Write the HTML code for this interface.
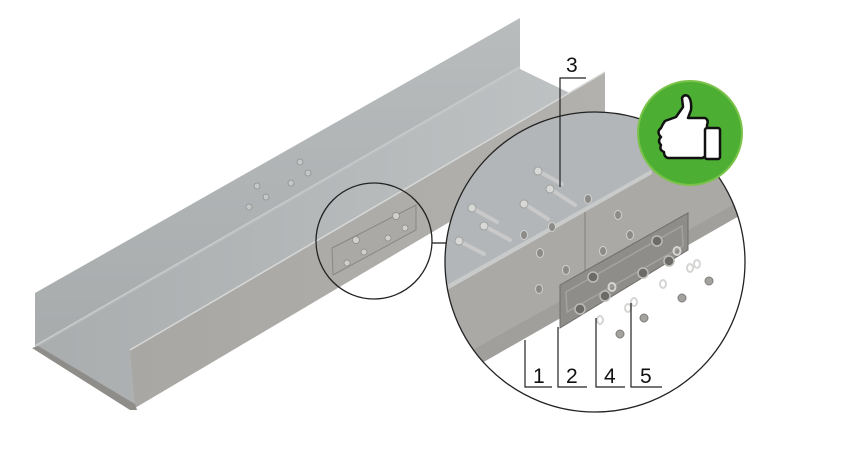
<!DOCTYPE html>
<html><head><meta charset="utf-8"><style>
html,body{margin:0;padding:0;background:#fff;}
svg{display:block;}
text{font-family:"Liberation Sans",sans-serif;}
</style></head><body>
<svg width="841" height="454" viewBox="0 0 841 454" xmlns="http://www.w3.org/2000/svg">
<defs>
<linearGradient id="bw" x1="0" y1="0" x2="0" y2="1"><stop offset="0" stop-color="#b9bcbd"/><stop offset="1" stop-color="#a7abac"/></linearGradient>
<linearGradient id="fl" x1="0" y1="0" x2="1" y2="0"><stop offset="0" stop-color="#a9adae"/><stop offset="1" stop-color="#bfc3c4"/></linearGradient>
<linearGradient id="fw" x1="0" y1="0" x2="1" y2="0"><stop offset="0" stop-color="#a9a7a3"/><stop offset="1" stop-color="#b3b1ad"/></linearGradient>
<clipPath id="cc"><circle cx="595" cy="262" r="150"/></clipPath>
</defs>
<polygon points="35,293 520,18 520,69 35,348" fill="url(#bw)"/>
<polygon points="35,348 520,69 605,110 130,408" fill="url(#fl)"/>
<polygon points="130,350 605,72 605,130 135,408" fill="url(#fw)"/>
<line x1="130" y1="350" x2="605" y2="72" stroke="#d6d8d8" stroke-width="1.5"/>
<line x1="35" y1="346" x2="520" y2="67" stroke="#c6c9ca" stroke-width="2"/>
<polygon points="32,348 38,346 135,404 137,410 130,410" fill="#8f8d8a"/>
<g fill="#c6c8c8" stroke="#8e9091" stroke-width="0.8">
<circle cx="257" cy="186" r="3"/><circle cx="266" cy="197" r="3"/><circle cx="249" cy="207" r="3"/>
<circle cx="300" cy="162" r="3"/><circle cx="308" cy="173" r="3"/><circle cx="291" cy="183" r="3"/>
</g>
<polygon points="332,248 416,205 416,230 333,275" fill="#aba9a5" stroke="#8a8884" stroke-width="1"/>
<g fill="#cfcfcd" stroke="#888" stroke-width="0.7">
<circle cx="356" cy="240" r="3.5"/><circle cx="364" cy="252" r="3"/><circle cx="347" cy="263" r="3"/>
<circle cx="396" cy="216" r="3.5"/><circle cx="405" cy="228" r="3"/><circle cx="388" cy="238" r="3"/>
</g>
<circle cx="374" cy="241" r="58" fill="none" stroke="#222" stroke-width="1.3"/>
<line x1="432" y1="243" x2="447" y2="243" stroke="#222" stroke-width="1.3"/>
<circle cx="595" cy="262" r="150" fill="#fff"/>
<g clip-path="url(#cc)">
<polygon points="440,110 760,110 760,150 440,330" fill="#b2b6b8"/>
<polygon points="440,290 650,172 760,150 760,215 440,378" fill="#aaa9a6"/>
<polygon points="440,289 651,170 652,174 440,294" fill="#c9cbcb"/>
<polygon points="440,368 760,190 760,206 440,388" fill="#a09f9c"/>
<polygon points="440,387 760,204 760,420 440,420" fill="#fff"/>
<line x1="585" y1="212" x2="585" y2="278" stroke="#777" stroke-width="0.8"/>
<g fill="#8c8b88" stroke="#d0d0cf" stroke-width="1">
<ellipse cx="552" cy="227" rx="3.5" ry="4.5"/><ellipse cx="566" cy="270" rx="3.5" ry="4.5"/>
<ellipse cx="540" cy="253" rx="3.5" ry="4.5"/><ellipse cx="539" cy="289" rx="3.5" ry="4.5"/>
<ellipse cx="618" cy="215" rx="3.5" ry="4.5"/><ellipse cx="630" cy="235" rx="3.5" ry="4.5"/>
<ellipse cx="603" cy="251" rx="3.5" ry="4.5"/><ellipse cx="588" cy="199" rx="3.5" ry="4.5"/>
<ellipse cx="524" cy="235" rx="3.5" ry="4.5"/>
</g>
<g stroke="#c8c9c8" stroke-width="4" stroke-linecap="round">
<line x1="540" y1="172" x2="562" y2="184"/><line x1="552" y1="190" x2="575" y2="205"/>
<line x1="526" y1="205" x2="548" y2="219"/><line x1="474" y1="209" x2="497" y2="222"/>
<line x1="486" y1="227" x2="510" y2="240"/><line x1="461" y1="242" x2="484" y2="254"/>
</g>
<g fill="#d8d8d6" stroke="#999" stroke-width="0.8">
<circle cx="538" cy="171" r="4"/><circle cx="550" cy="189" r="4"/><circle cx="524" cy="204" r="4"/>
<circle cx="472" cy="208" r="4"/><circle cx="484" cy="226" r="4"/><circle cx="459" cy="241" r="4"/>
</g>
<polygon points="560,285 688,213 688,250 560,328" fill="#8f8d89" stroke="#6f6d6a" stroke-width="1"/>
<polygon points="566,292 682,226 683,246 567,312" fill="none" stroke="#a5a39f" stroke-width="1.5"/>
<g fill="#6d6b68" stroke="#bdbbb7" stroke-width="1.5">
<circle cx="580" cy="309" r="5"/><circle cx="593" cy="277" r="5"/><circle cx="605" cy="296" r="5"/>
<circle cx="643" cy="273" r="5"/><circle cx="657" cy="241" r="5"/><circle cx="669" cy="261" r="5"/>
</g>
<g fill="none" stroke="#d5d5d3" stroke-width="2">
<ellipse cx="612" cy="287" rx="3.5" ry="4"/><ellipse cx="677" cy="251" rx="3.5" ry="4"/>
<ellipse cx="600" cy="320" rx="3" ry="4"/><ellipse cx="628" cy="308" rx="3" ry="4"/>
<ellipse cx="663" cy="284" rx="3" ry="4"/><ellipse cx="690" cy="268" rx="3" ry="4"/>
<ellipse cx="634" cy="302" rx="3" ry="4"/><ellipse cx="697" cy="264" rx="3" ry="4"/>
</g>
<g fill="#a3a29e" stroke="#7f7e7b" stroke-width="1">
<circle cx="620" cy="334" r="4"/><circle cx="644" cy="318" r="4"/><circle cx="682" cy="298" r="4"/><circle cx="709" cy="281" r="4"/>
</g>
</g>
<circle cx="595" cy="262" r="150" fill="none" stroke="#222" stroke-width="1.3"/>
<circle cx="690" cy="133" r="52" fill="#4caf33"/>
<circle cx="690" cy="133" r="52" fill="none" stroke="#7ac24a" stroke-width="2"/>
<path d="M663,124 L665,121 L676,117 L683,107 L682,98 Q684,94 688,96 Q692,100 691,110 L688,118 L705,118 Q709,120 707,125 L707,152 Q705,159 700,158 L668,158 Q664,157 664,152 Q659,150 661,145 Q657,141 661,137 Q656,132 661,128 Z" fill="#fff" stroke="#111" stroke-width="2.5" stroke-linejoin="round"/>
<rect x="705" y="128" width="15" height="31" rx="2" fill="#fff" stroke="#111" stroke-width="2.5"/>
<g stroke="#222" stroke-width="1.2" fill="none">
<polyline points="586,78 560,78 560,187"/>
<polyline points="525,340 525,387 552,387"/>
<polyline points="558,327 558,387 587,387"/>
<polyline points="596,318 596,387 625,387"/>
<polyline points="631,303 631,387 662,387"/>
</g>
<g font-size="21" fill="#111">
<text x="566" y="72">3</text>
<text x="533" y="383">1</text>
<text x="566" y="383">2</text>
<text x="604" y="383">4</text>
<text x="640" y="383">5</text>
</g>
</svg>
</body></html>
